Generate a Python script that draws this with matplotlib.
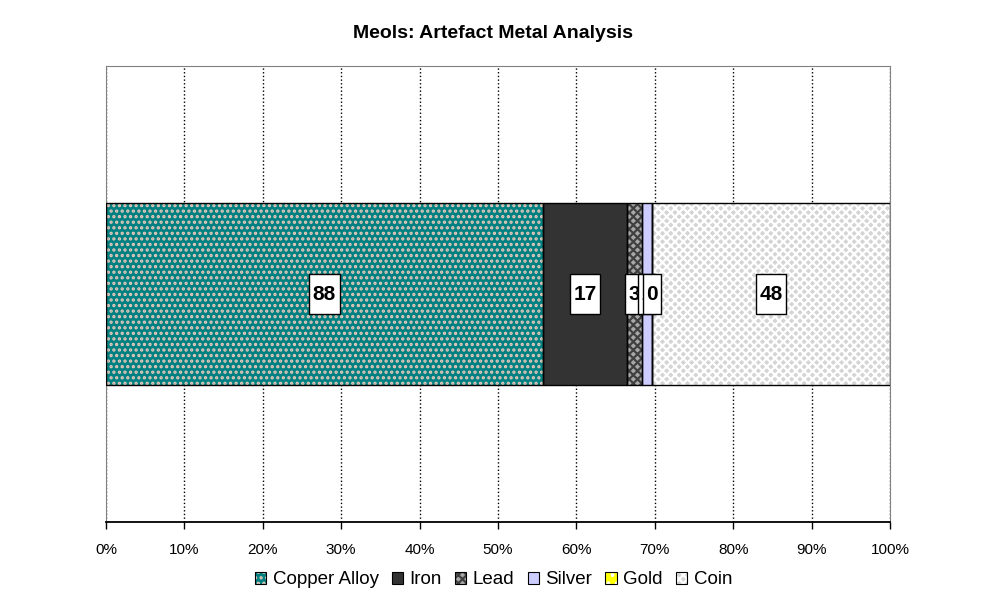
import numpy as np
import matplotlib.pyplot as plt
from matplotlib.patches import Patch, Rectangle

plt.rcParams['font.family'] = ['Liberation Sans', 'DejaVu Sans']
plt.rcParams['hatch.linewidth'] = 1.6

# data
metals = ['Copper Alloy', 'Iron', 'Lead', 'Silver', 'Gold', 'Coin']
counts = [88, 17, 3, 2, 0, 48]
labels = ['88', '17', '3', '2', '0', '48']

# look of each segment: face, hatch, hatch colour
faces = ['#008080', '#333333', '#a8a8a8', '#ccccff', '#ffff00', '#d4d4d4']
hatches = ['...', None, 'xxxx', None, '..', 'xxxx']
hatch_cols = ['#e6c8bc', '#333333', '#404040', '#ccccff', '#ffffff', '#ffffff']

fig = plt.figure(figsize=(9.87, 6.06), dpi=100)
ax = fig.add_axes([106 / 987, 84 / 606, 784 / 987, 456 / 606])

total = sum(counts)
shares = np.array(counts) / total * 100
lefts = np.concatenate([[0], np.cumsum(shares)[:-1]])

for i in range(len(metals)):
    ax.barh(0, shares[i], left=lefts[i], height=0.4, color=faces[i],
            hatch=hatches[i], edgecolor=hatch_cols[i], linewidth=0, zorder=2)
    ax.barh(0, shares[i], left=lefts[i], height=0.4, fill=False,
            edgecolor='black', linewidth=1, zorder=3)

# label boxes: pixel size from the number of digits, converted to data units
box_h = 40 / 456
for i in range(len(metals)):
    cx = lefts[i] + shares[i] / 2
    box_w = (5.5 + 12.5 * len(labels[i])) / 784 * 100
    ax.add_patch(Rectangle((cx - box_w / 2, -box_h / 2), box_w, box_h,
                           facecolor='white', edgecolor='black', linewidth=1,
                           zorder=4 + i * 0.1))
    ax.text(cx, 0, labels[i], ha='center', va='center',
            fontsize=15, fontweight='bold', zorder=4.05 + i * 0.1)

ax.set_xlim(0, 100)
ax.set_ylim(-0.5, 0.5)
ax.set_yticks([])
ax.set_xticks(np.arange(0, 101, 10))
ax.set_xticklabels([f'{t}%' for t in range(0, 101, 10)], fontsize=11)
ax.tick_params(axis='x', direction='out', length=5, width=1, pad=10)
ax.grid(axis='x', linestyle=':', color='black', linewidth=1, zorder=0)
ax.set_axisbelow(True)

for s in ['top', 'right', 'left']:
    ax.spines[s].set_color('#808080')
ax.spines['bottom'].set_linewidth(1.3)

fig.text(0.5, 1 - 33 / 606, 'Meols: Artefact Metal Analysis', ha='center',
         va='center', fontsize=14, fontweight='bold')

# legend keys: hatched fill with its own colour, black outline on top
handles = [(Patch(facecolor=faces[i], hatch=hatches[i], edgecolor=hatch_cols[i],
                  linewidth=0),
            Patch(fill=False, edgecolor='black', linewidth=0.8))
           for i in range(len(metals))]
fig.legend(handles, metals, loc='center', bbox_to_anchor=(0.5, 26 / 606),
           ncol=6, frameon=False, fontsize=13.5, handlelength=0.6, handleheight=0.6,
           handletextpad=0.35, columnspacing=0.7)

fig.savefig('out.png', dpi=100)
